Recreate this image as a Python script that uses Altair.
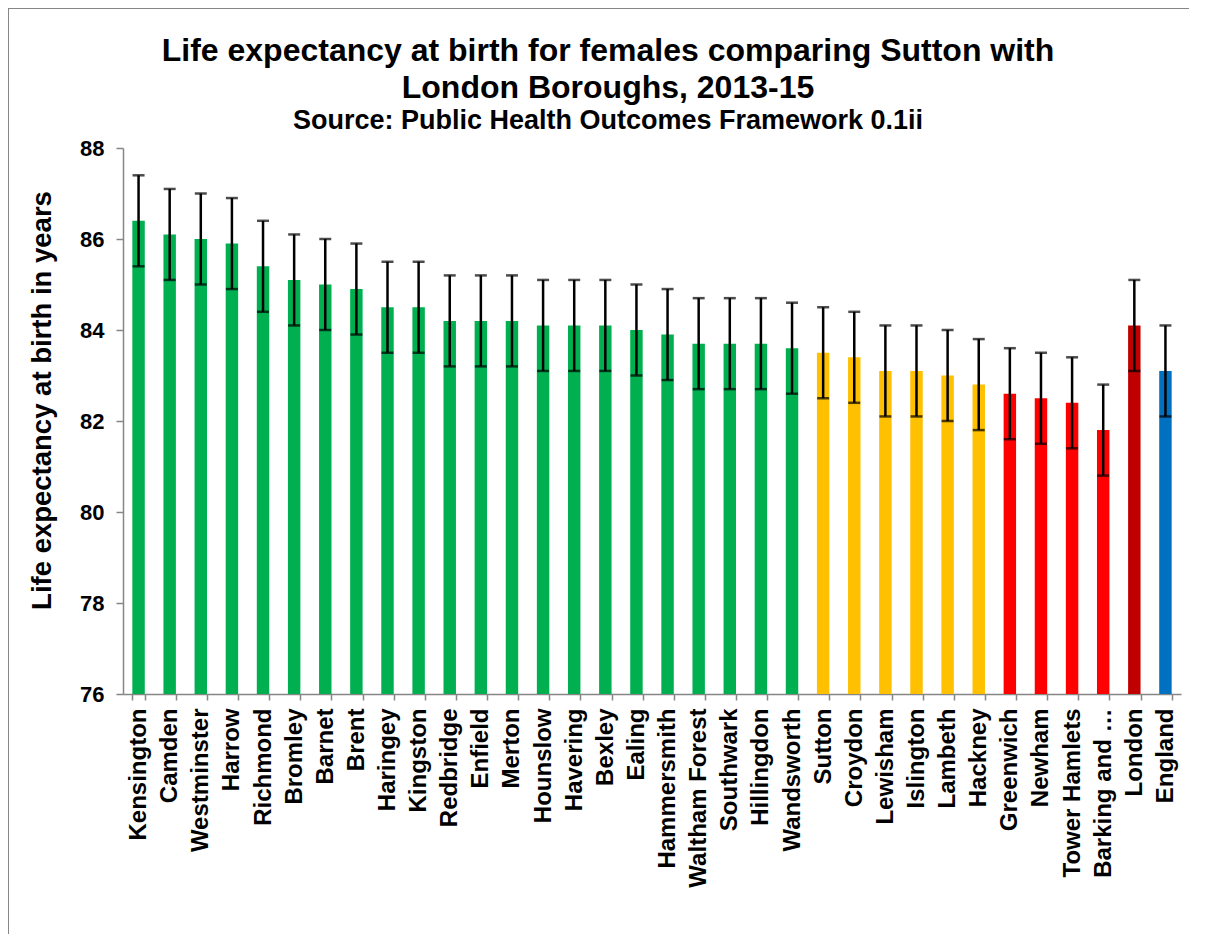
import altair as alt
import pandas as pd

areas = ["Kensington", "Camden", "Westminster", "Harrow", "Richmond", "Bromley",
         "Barnet", "Brent", "Haringey", "Kingston", "Redbridge", "Enfield", "Merton",
         "Hounslow", "Havering", "Bexley", "Ealing", "Hammersmith", "Waltham Forest",
         "Southwark", "Hillingdon", "Wandsworth", "Sutton", "Croydon", "Lewisham",
         "Islington", "Lambeth", "Hackney", "Greenwich", "Newham", "Tower Hamlets",
         "Barking and …", "London", "England"]
life_exp = [86.4, 86.1, 86.0, 85.9, 85.4, 85.1, 85.0, 84.9, 84.5, 84.5, 84.2, 84.2, 84.2,
            84.1, 84.1, 84.1, 84.0, 83.9, 83.7, 83.7, 83.7, 83.6, 83.5, 83.4, 83.1,
            83.1, 83.0, 82.8, 82.6, 82.5, 82.4, 81.8, 84.1, 83.1]
lower_ci = [85.4, 85.1, 85.0, 84.9, 84.4, 84.1, 84.0, 83.9, 83.5, 83.5, 83.2, 83.2, 83.2,
            83.1, 83.1, 83.1, 83.0, 82.9, 82.7, 82.7, 82.7, 82.6, 82.5, 82.4, 82.1,
            82.1, 82.0, 81.8, 81.6, 81.5, 81.4, 80.8, 83.1, 82.1]
upper_ci = [87.4, 87.1, 87.0, 86.9, 86.4, 86.1, 86.0, 85.9, 85.5, 85.5, 85.2, 85.2, 85.2,
            85.1, 85.1, 85.1, 85.0, 84.9, 84.7, 84.7, 84.7, 84.6, 84.5, 84.4, 84.1,
            84.1, 84.0, 83.8, 83.6, 83.5, 83.4, 82.8, 85.1, 84.1]
groups = (["better"] * 22 + ["similar"] * 6 + ["worse"] * 4 + ["london", "england"])
group_domain = ["better", "similar", "worse", "london", "england"]
group_colors = ["#00B050", "#FFC000", "#FF0000", "#C00000", "#0070C0"]
y_ticks = [76, 78, 80, 82, 84, 86, 88]

df = pd.DataFrame({"area": areas, "value": life_exp, "lo": lower_ci, "hi": upper_ci,
                   "group": groups})

W, H = 1058, 546
FONT = "Liberation Sans"

x_enc = alt.X("area:N", sort=areas, title=None,
              scale=alt.Scale(paddingInner=0.6, paddingOuter=0.3),
              axis=alt.Axis(labelAngle=270, labelFont=FONT, labelFontSize=24,
                            labelFontWeight="bold", labelColor="black",
                            labelPadding=8, tickSize=6, tickBand="extent",
                            domainColor="#868686", tickColor="#868686",
                            domainWidth=1.5, tickWidth=1.5, labelLimit=300))

bars = alt.Chart(df).mark_bar().encode(
    x=x_enc,
    y=alt.Y("value:Q", title="Life expectancy at birth in years",
            scale=alt.Scale(domain=[76, 88], nice=False, zero=False, clamp=True),
            axis=alt.Axis(values=y_ticks, grid=False, labelFont=FONT, labelFontSize=22,
                          labelFontWeight="bold", labelColor="black", labelPadding=12,
                          tickSize=7, domainColor="#868686", tickColor="#868686",
                          domainWidth=1.5, tickWidth=1.5,
                          titleFont=FONT, titleFontSize=27.5, titleFontWeight="bold",
                          titleColor="black", titlePadding=23, titleY=252)),
    y2=alt.datum(76),
    color=alt.Color("group:N", scale=alt.Scale(domain=group_domain, range=group_colors),
                    legend=None),
)

rules = alt.Chart(df).mark_rule(color="black", strokeWidth=2.5).encode(
    x=alt.X("area:N", sort=areas), y="lo:Q", y2="hi:Q")
cap_lo = alt.Chart(df).mark_tick(color="black", size=12, thickness=2.5).encode(
    x=alt.X("area:N", sort=areas), y="lo:Q")
cap_hi = alt.Chart(df).mark_tick(color="black", size=12, thickness=2.5).encode(
    x=alt.X("area:N", sort=areas), y="hi:Q")

frame_top = alt.Chart(df).mark_rule(color="#868686", strokeWidth=1.5).encode(
    x=alt.value(-115), x2=alt.value(W + 40), y=alt.value(-140))
frame_left = alt.Chart(df).mark_rule(color="#868686", strokeWidth=1.5).encode(
    x=alt.value(-115), y=alt.value(-140), y2=alt.value(H + 260))

chart = alt.layer(bars, rules, cap_lo, cap_hi, frame_top, frame_left).properties(
    width=W, height=H,
    background="white",
    autosize=alt.AutoSizeParams(type="none"),
    padding={"left": 115, "top": 140, "right": 8, "bottom": 240},
    title=alt.Title(
        text=["Life expectancy at birth for females comparing Sutton with",
              "London Boroughs, 2013-15"],
        subtitle="Source: Public Health Outcomes Framework 0.1ii",
        font=FONT, fontSize=32, fontWeight="bold", color="black", lineHeight=37,
        subtitleFont=FONT, subtitleFontSize=27, subtitleFontWeight="bold",
        subtitleColor="black", subtitlePadding=3, anchor="middle", frame="group",
        dx=-44, dy=128, offset=0),
).configure_view(stroke="transparent", strokeWidth=0)

chart.save("out.html", embed_options={"renderer": "svg", "actions": False})
